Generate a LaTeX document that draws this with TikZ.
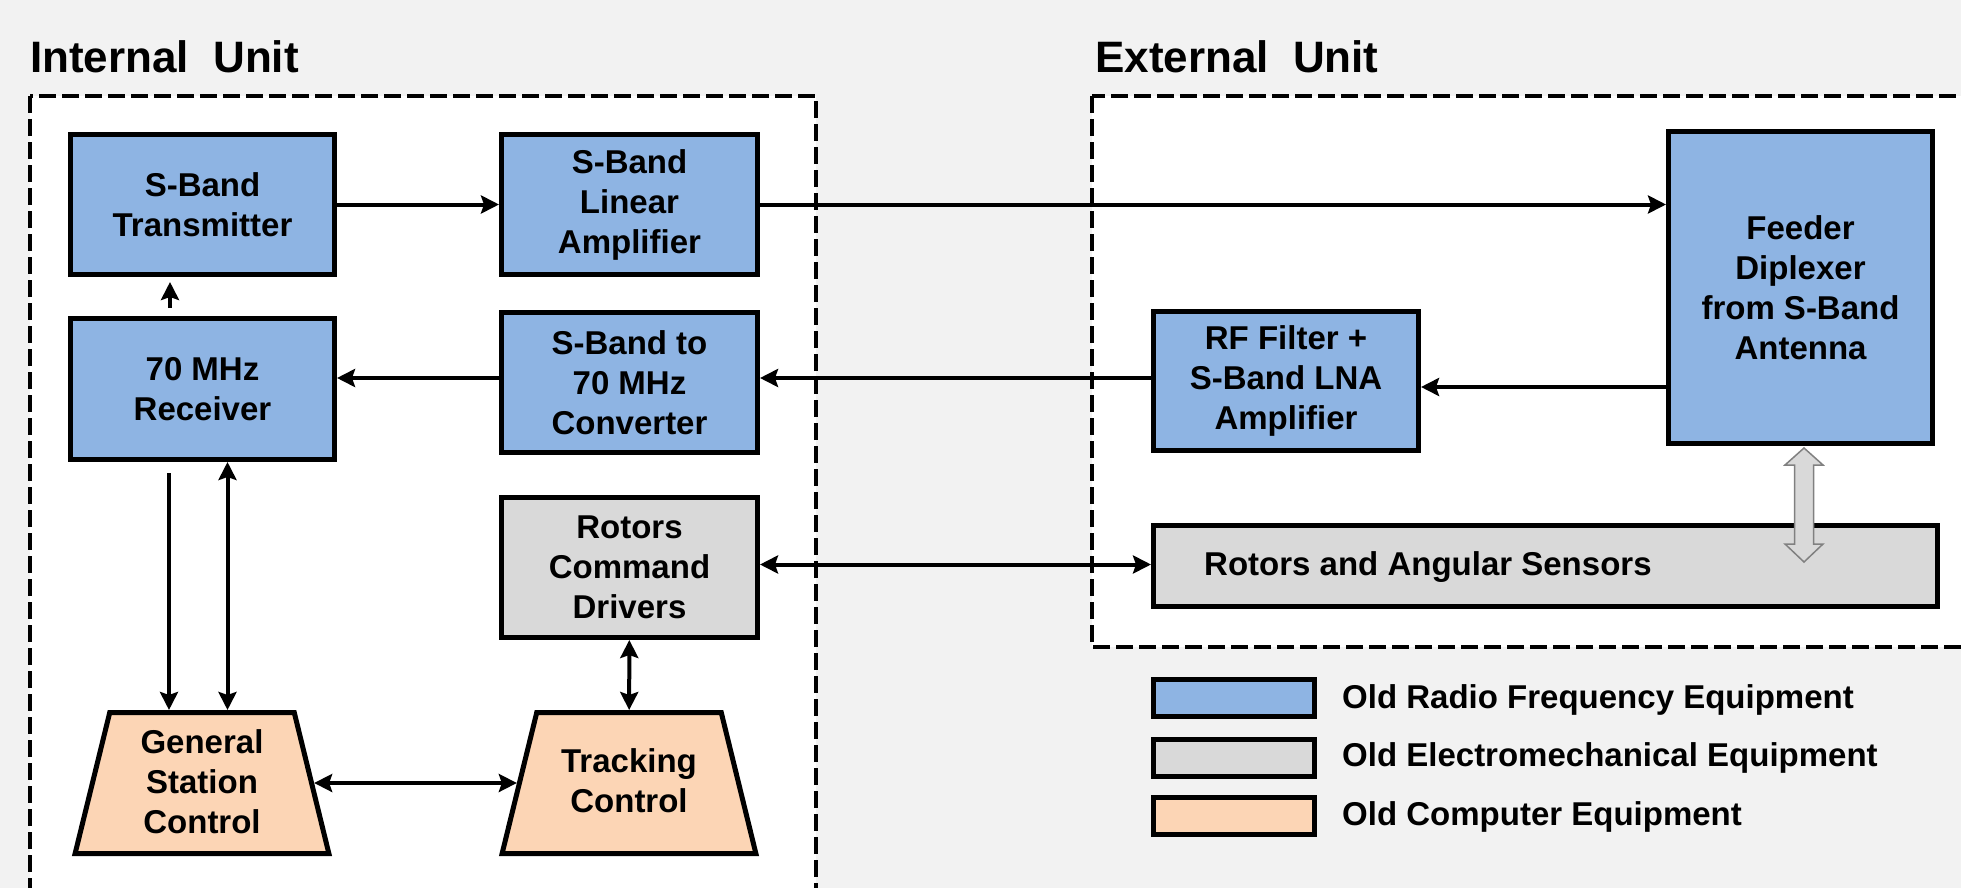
\documentclass[tikz,border=0pt]{standalone}
\usepackage{fontspec}
\setmainfont{Liberation Sans}
\usetikzlibrary{arrows.meta,shapes.geometric}
\definecolor{rfblue}{HTML}{8EB4E3}
\definecolor{emgrey}{HTML}{D9D9D9}
\definecolor{cpeach}{HTML}{FCD5B5}
\definecolor{bgcol}{HTML}{F2F2F2}
\definecolor{blockgrey}{HTML}{808080}
\newcommand{\boxfont}{\fontsize{33pt}{40pt}\selectfont\bfseries}
\newcommand{\titlefont}{\fontsize{44pt}{50pt}\selectfont\bfseries}
\begin{document}
\begin{tikzpicture}[x=1pt,y=-1pt,
  box/.style={draw=black, line width=5pt, rectangle, align=center, inner sep=0pt, font=\boxfont},
  rfbox/.style={box, fill=rfblue},
  embox/.style={box, fill=emgrey},
  compbox/.style={box, fill=cpeach, trapezium, trapezium angle=76.2, inner xsep=92.25pt, inner ysep=70.5pt},
  boxlabel/.style={align=center, inner sep=0pt, font=\boxfont},
  frame/.style={draw=black, line width=4pt, dash pattern=on 17pt off 6pt, fill=white},
  tip/.tip={Stealth[length=18pt,width=18pt,inset=3pt]},
  arr/.style={line width=4pt, -tip},
  dbl/.style={line width=4pt, tip-tip},
  title/.style={anchor=base west, inner sep=0pt, font=\titlefont},
  legtext/.style={anchor=west, inner sep=0pt, font=\boxfont}
]
\useasboundingbox (0,0) rectangle (1961,888);
\fill[bgcol] (0,0) rectangle (1961,888);

% frames
\draw[frame] (30,96) rectangle (816,910);
\draw[frame] (1092,96) rectangle (1985,647);
\node[title] (tint) at (30,73) {Internal\hspace{0.55em}Unit};
\node[title] (text) at (1095,73) {External\hspace{0.55em}Unit};

% internal unit
\node[rfbox, minimum width=264pt, minimum height=140pt] (tx) at (202.5,204.5) {S-Band\\Transmitter};
\node[rfbox, minimum width=256pt, minimum height=140pt] (amp) at (629.5,204.5) {S-Band\\Linear\\Amplifier};
\node[rfbox, minimum width=264pt, minimum height=141pt] (rx) at (202.5,389) {70 MHz\\Receiver};
\node[rfbox, minimum width=256pt, minimum height=140pt] (conv) at (629.5,382.5) {S-Band to\\70 MHz\\Converter};
\node[embox, minimum width=256pt, minimum height=140pt] (rcd) at (629.5,567.5) {Rotors\\Command\\Drivers};
\node[compbox] (gsc) at (202,783) {};
\node[boxlabel] (gsclabel) at (202,782) {General\\Station\\Control};
\node[compbox] (tc) at (629,783) {};
\node[boxlabel] (tclabel) at (629,781) {Tracking\\Control};

% external unit
\node[rfbox, minimum width=265pt, minimum height=139pt] (rf) at (1286,381) {RF Filter +\\S-Band LNA\\Amplifier};
\node[rfbox, minimum width=264pt, minimum height=312pt] (feed) at (1800.5,287.5) {Feeder\\Diplexer\\from S-Band\\Antenna};
\node[embox, minimum width=784pt, minimum height=81pt] (ras) at (1545.5,566) {};
\node[legtext] (raslabel) at (1204,567) {Rotors and Angular Sensors};

% block arrow between feeder and rotors
\draw[fill=emgrey, draw=blockgrey, line width=1.5pt, line join=miter]
  (1804,448) -- (1823,465) -- (1813.5,465) -- (1813.5,544) -- (1823,544) -- (1804,562)
  -- (1785,544) -- (1794.5,544) -- (1794.5,465) -- (1785,465) -- cycle;

% connectors
\draw[arr] (tx.east) -- (amp.west);
\draw[arr] (amp.east) -- (amp.east -| feed.west);
\draw[arr] ([shift={(-32.5pt,8pt)}]rx.north) -- ([shift={(-32.5pt,-5pt)}]tx.south);
\coordinate (c1) at ([yshift=4.5pt]conv.west);
\draw[arr] (c1) -- (c1 -| rx.east);
\coordinate (c2) at ([yshift=3pt]rf.west);
\draw[arr] (c2) -- (c2 -| conv.east);
\coordinate (c3) at ([yshift=-6pt]rf.east);
\draw[arr] (c3 -| feed.west) -- (c3);
\coordinate (d1) at ([shift={(-33.5pt,-11pt)}]rx.south);
\draw[arr] (d1) -- (d1 |- gsc.north);
\coordinate (d2) at ([xshift=25pt]rx.south);
\draw[dbl] (d2) -- (d2 |- gsc.north);
\draw[dbl] (rcd) -- (tc);
\draw[dbl] (gsc) -- (tc);
\coordinate (c4) at ([yshift=3pt]rcd.east);
\draw[dbl] (c4) -- (c4 -| ras.west);

% legend
\node[rfbox, minimum width=161pt, minimum height=37pt] (leg1) at (1234,698) {};
\node[embox, minimum width=161pt, minimum height=37pt] (leg2) at (1234,757.5) {};
\node[box, fill=cpeach, minimum width=161pt, minimum height=37pt] (leg3) at (1234,815.5) {};
\node[legtext] (lt1) at (1342,700) {Old Radio Frequency Equipment};
\node[legtext] (lt2) at (1342,758) {Old Electromechanical Equipment};
\node[legtext] (lt3) at (1342,817) {Old Computer Equipment};
\end{tikzpicture}
\end{document}
